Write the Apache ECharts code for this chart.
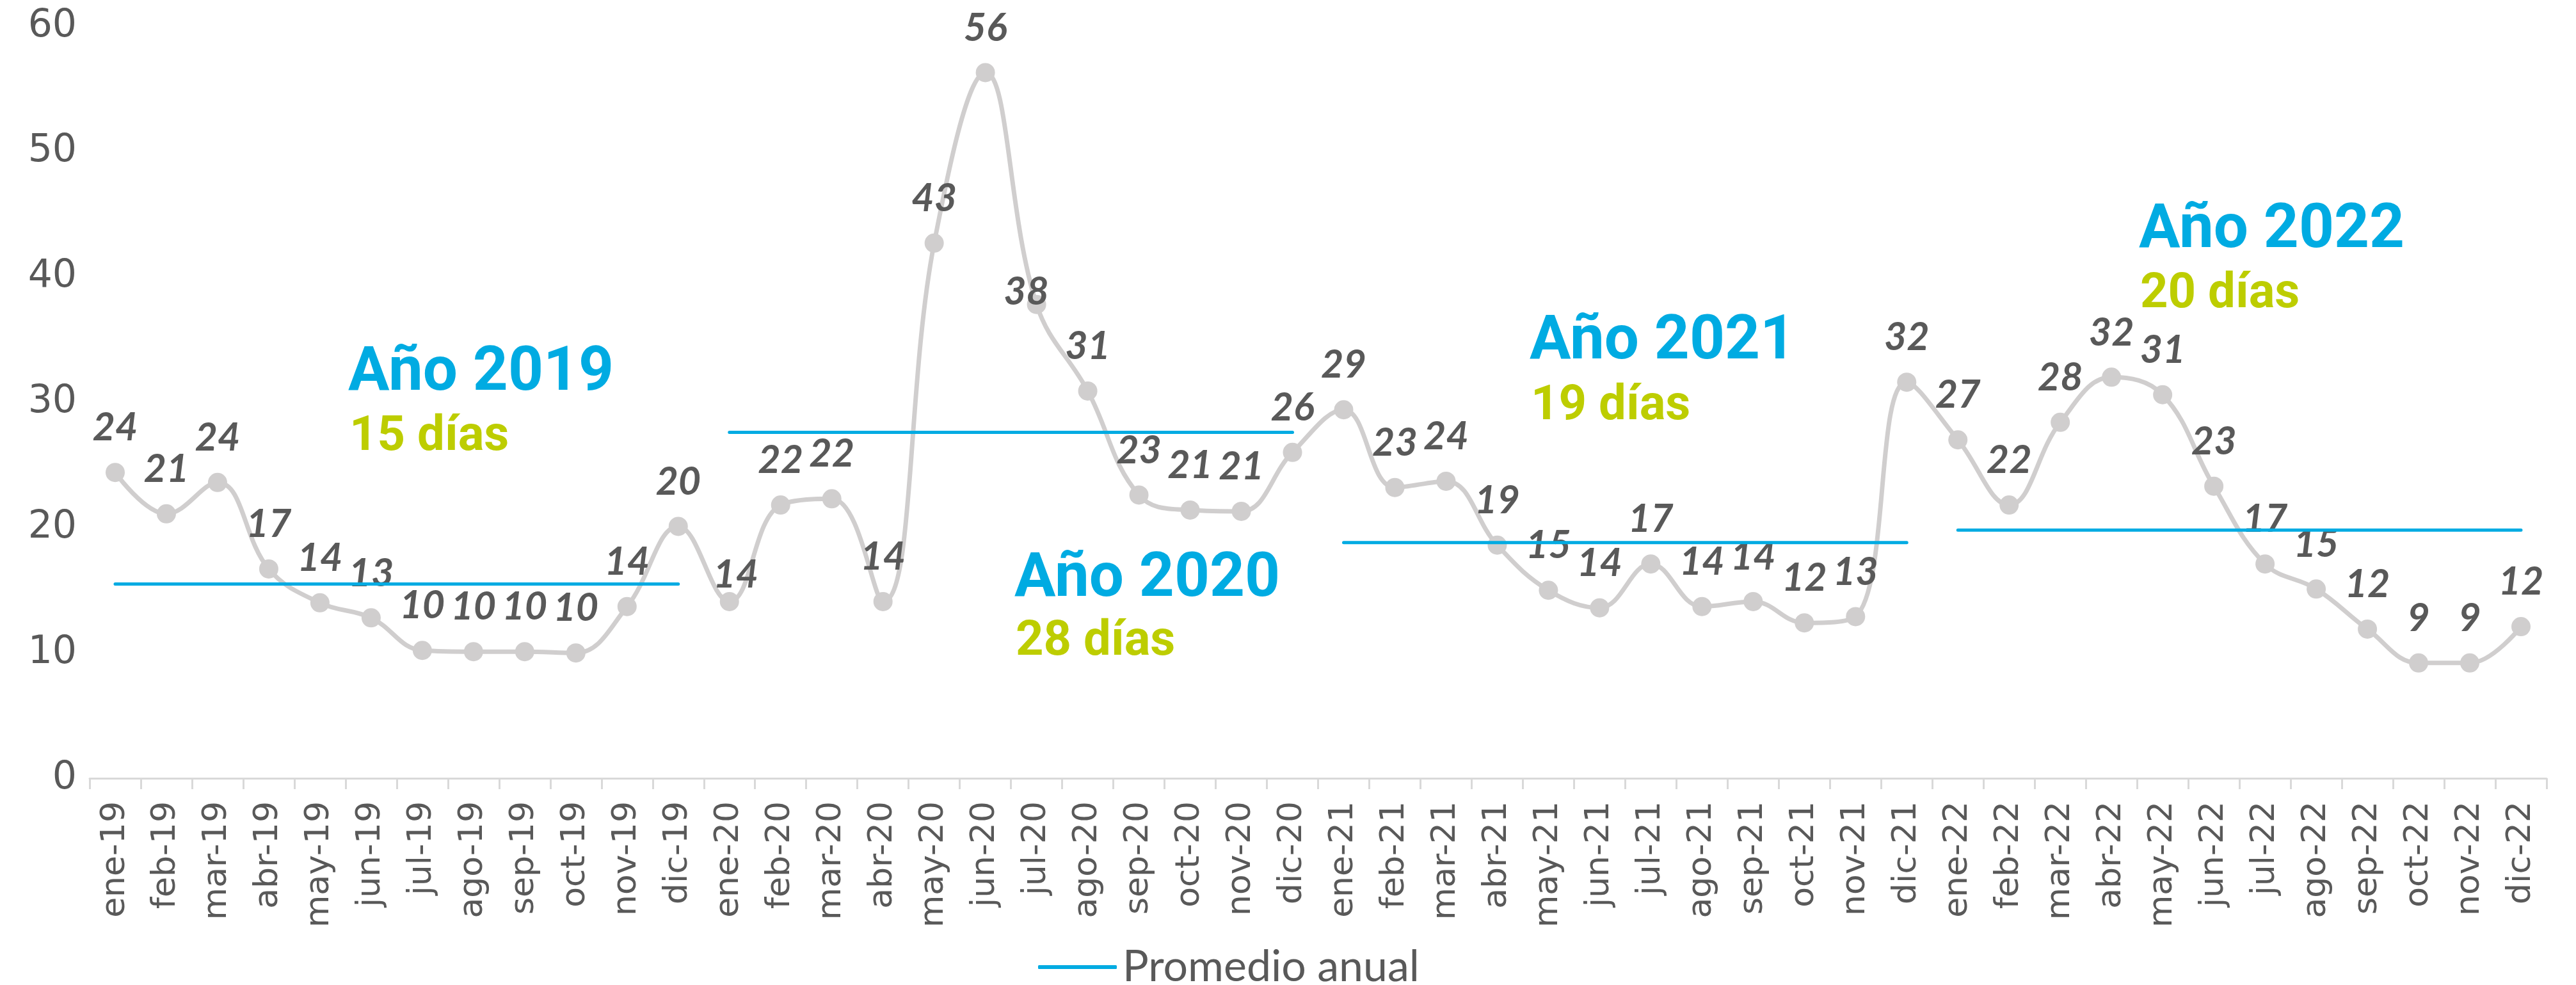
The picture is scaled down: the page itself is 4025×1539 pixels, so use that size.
<!DOCTYPE html>
<html>
<head>
<meta charset="utf-8">
<script src="https://cdn.jsdelivr.net/npm/echarts@6.0.0/dist/echarts.min.js"></script>
<style>
  html, body { margin: 0; padding: 0; background: #fff; }
  #main { width: 4025px; height: 1539px; }
</style>
</head>
<body>
<div id="main"></div>
<script>
// meses (eje x)
const meses = [
  'ene-19', 'feb-19', 'mar-19', 'abr-19', 'may-19', 'jun-19', 'jul-19', 'ago-19', 'sep-19', 'oct-19', 'nov-19', 'dic-19',
  'ene-20', 'feb-20', 'mar-20', 'abr-20', 'may-20', 'jun-20', 'jul-20', 'ago-20', 'sep-20', 'oct-20', 'nov-20', 'dic-20',
  'ene-21', 'feb-21', 'mar-21', 'abr-21', 'may-21', 'jun-21', 'jul-21', 'ago-21', 'sep-21', 'oct-21', 'nov-21', 'dic-21',
  'ene-22', 'feb-22', 'mar-22', 'abr-22', 'may-22', 'jun-22', 'jul-22', 'ago-22', 'sep-22', 'oct-22', 'nov-22', 'dic-22'
]
// días por mes
const dias2019 = [24.4, 21.1, 23.6, 16.7, 14.0, 12.8, 10.2, 10.1, 10.1, 10.0, 13.7, 20.1]
const dias2020 = [14.1, 21.8, 22.3, 14.1, 42.7, 56.3, 37.8, 30.9, 22.6, 21.4, 21.3, 26.0]
const dias2021 = [29.4, 23.2, 23.7, 18.6, 15.0, 13.6, 17.1, 13.7, 14.1, 12.4, 12.9, 31.6]
const dias2022 = [27.0, 21.8, 28.4, 32.0, 30.6, 23.3, 17.1, 15.1, 11.9, 9.2, 9.2, 12.1]
// promedio anual
const promedio = [15.5, 27.6, 18.8, 19.8]
const yTicks = [0, 10, 20, 30, 40, 50, 60]
// textos de cada año
const tituloAnio = ['Año 2019', 'Año 2020', 'Año 2021', 'Año 2022']
const textoDias = ['15 días', '28 días', '19 días', '20 días']

const GRAY = '#D0CECE'
const BLUE = '#00ABE2'
const GREEN = '#BDCD00'
const TEXT = '#595959'

const dias = [].concat(dias2019, dias2020, dias2021, dias2022)

// etiquetas movidas a mano en el original
const labelOffsets = {
  12: [10, 28],
  18: [-16, 50]
}

const diasData = dias.map((v, i) => {
  if (labelOffsets[i]) {
    return { value: v, label: { offset: labelOffsets[i] } }
  }
  return v
})

// una serie por año para que la línea no se una entre años
const promedioSeries = promedio.map((p, y) => ({
  name: 'Promedio anual',
  type: 'line',
  z: 3,
  symbol: 'none',
  color: BLUE,
  lineStyle: { color: BLUE, width: 5, cap: 'round' },
  data: meses.map((m, i) => Math.floor(i / 12) === y ? p : '-')
}))

// posiciones de los textos (px)
const annotPos = [
  [544, 587, 684],
  [1585, 909, 1004],
  [2390, 538, 636],
  [3342, 364, 461]
]
const graphics = []
annotPos.forEach((pos, i) => {
  graphics.push({
    type: 'text', left: pos[0], top: pos[1] - 50,
    style: {
      text: tituloAnio[i], fill: BLUE,
      font: 'bold 96px Roboto, sans-serif'
    }
  })
  graphics.push({
    type: 'text', left: pos[0] + 2, top: pos[2] - 38,
    style: {
      text: textoDias[i], fill: GREEN,
      font: 'bold 76px Roboto, sans-serif'
    }
  })
})

const chart = echarts.init(document.getElementById('main'), null, { renderer: 'canvas' })
chart.setOption({
  animation: false,
  backgroundColor: '#fff',
  grid: { left: 140, right: 46, top: 41, bottom: 323, containLabel: false },
  legend: {
    data: ['Promedio anual'],
    left: 1617,
    top: 1472,
    icon: 'roundRect',
    itemWidth: 123,
    itemHeight: 6,
    itemGap: 20,
    textStyle: { fontFamily: 'Lato', fontSize: 68, color: TEXT, padding: [0, 0, 0, 4] }
  },
  xAxis: {
    type: 'category',
    data: meses,
    boundaryGap: true,
    axisLine: { lineStyle: { color: '#D9D9D9', width: 3 } },
    axisTick: { show: true, interval: 0, length: 17, lineStyle: { color: '#D9D9D9', width: 3 } },
    axisLabel: {
      interval: 0, rotate: 90, margin: 36,
      fontFamily: 'DejaVu Sans', fontSize: 52, color: TEXT
    },
    splitLine: { show: false }
  },
  yAxis: {
    type: 'value',
    min: yTicks[0],
    max: yTicks[yTicks.length - 1],
    interval: 10,
    axisLine: { show: false },
    axisTick: { show: false },
    splitLine: { show: false },
    axisLabel: { margin: 20, fontFamily: 'DejaVu Sans', fontSize: 60, color: TEXT }
  },
  series: [{
    name: 'Días',
    type: 'line',
    z: 2,
    smooth: 0.4,
    symbol: 'circle',
    symbolSize: 30,
    color: GRAY,
    itemStyle: { color: GRAY },
    lineStyle: { color: GRAY, width: 7 },
    label: {
      show: true,
      position: 'top',
      distance: 24,
      fontFamily: 'Lato',
      fontStyle: 'italic',
      fontWeight: 'bold',
      fontSize: 61,
      lineHeight: 61,
      color: TEXT,
      formatter: p => Math.round(p.value)
    },
    data: diasData
  }].concat(promedioSeries),
  graphic: graphics
})
</script>
</body>
</html>
